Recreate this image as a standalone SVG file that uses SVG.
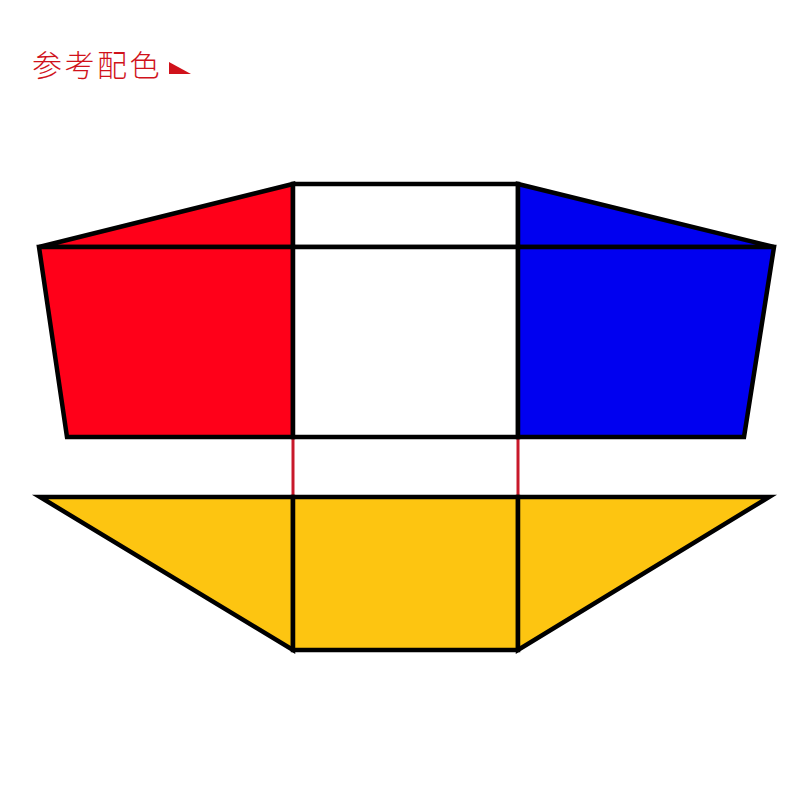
<svg xmlns="http://www.w3.org/2000/svg" width="800" height="800" viewBox="0 0 800 800">
<style>
.s{stroke:#000;stroke-width:4.5;stroke-linejoin:miter}
.red{fill:#ff0019}
.blue{fill:#0000f0}
.white{fill:#fff}
.yellow{fill:#fdc511}
.link{stroke:#c8182a;stroke-width:3;fill:none}
.title{font-family:"Noto Sans CJK SC","Noto Sans CJK TC",sans-serif;font-size:30px;font-weight:300;fill:#d0121b;letter-spacing:2.5px}
</style>
<rect width="800" height="800" fill="#fff"/>
<g id="title">
<text class="title" x="32" y="76">参考配色</text>
<polygon points="169,62 169,74 191,74" fill="#d0121b"/>
</g>
<g id="connectors">
<line class="link" x1="293" y1="437" x2="293" y2="497"/>
<line class="link" x1="518" y1="437" x2="518" y2="497"/>
</g>
<g id="red-top">
<polygon class="red s" points="39,247 293,184 293,247"/>
</g>
<g id="white-top">
<rect class="white s" x="293" y="184" width="225" height="63"/>
</g>
<g id="blue-top">
<polygon class="blue s" points="518,184 774,247 518,247"/>
</g>
<g id="red-front">
<polygon class="red s" points="39,247 293,247 293,437 67,437"/>
</g>
<g id="white-front">
<rect class="white s" x="293" y="247" width="225" height="190"/>
</g>
<g id="blue-front">
<polygon class="blue s" points="518,247 774,247 744,437 518,437"/>
</g>
<g id="yellow-left">
<polygon class="yellow s" points="40,497 293,497 293,650"/>
</g>
<g id="yellow-center">
<rect class="yellow s" x="293" y="497" width="225" height="153"/>
</g>
<g id="yellow-right">
<polygon class="yellow s" points="518,497 769,497 518,650"/>
</g>
</svg>
